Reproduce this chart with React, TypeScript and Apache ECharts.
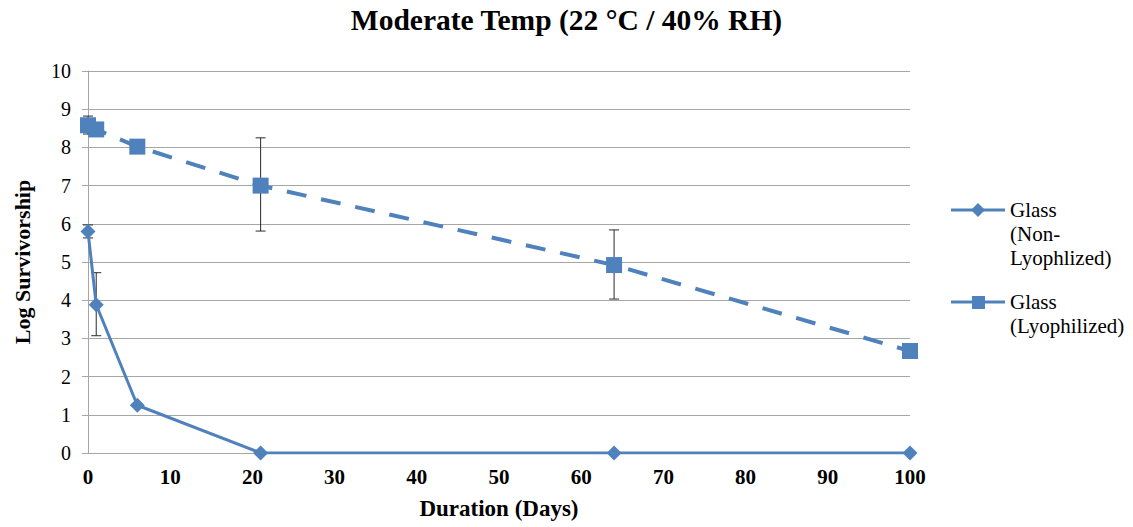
import React, { useEffect, useRef } from "react";
import * as echarts from "echarts";

const days = [0, 1, 6, 21, 64, 100];
const nonLyo = [5.8, 3.88, 1.25, 0, 0, 0];
const lyo = [8.58, 8.47, 8.02, 7.0, 4.92, 2.67];
// error bars: [day, low, high]
const nonLyoErr = [
  [0, 5.63, 5.97],
  [1, 3.07, 4.72],
];
const lyoErr = [
  [0, 8.35, 8.82],
  [21, 5.81, 8.25],
  [64, 4.03, 5.84],
];
const legendNames = ["Glass\n(Non-\nLyophlized)", "Glass\n(Lyophilized)"];
const title = "Moderate Temp (22 °C / 40% RH)";
const xName = "Duration (Days)";
const yName = "Log Survivorship";

const COLOR = "#4F81BD";
const FONT = "Liberation Serif";

function errRender(params: any, api: any) {
  const x = api.value(0);
  const lo = api.coord([x, api.value(1)]);
  const hi = api.coord([x, api.value(2)]);
  const w = 5;
  const st = { stroke: "#2a2a2a", lineWidth: 1 };
  return {
    type: "group",
    children: [
      { type: "line", shape: { x1: hi[0], y1: hi[1], x2: lo[0], y2: lo[1] }, style: st },
      { type: "line", shape: { x1: hi[0] - w, y1: hi[1], x2: hi[0] + w, y2: hi[1] }, style: st },
      { type: "line", shape: { x1: lo[0] - w, y1: lo[1], x2: lo[0] + w, y2: lo[1] }, style: st },
    ],
  };
}

export default function App() {
  const ref = useRef<HTMLDivElement>(null);
  useEffect(() => {
    if (!ref.current) return;
    const chart = echarts.init(ref.current, null, { renderer: "svg" });
    const lx = 951;
    const textStyle = { fill: "#000", fontFamily: FONT, fontSize: 21, lineHeight: 24 };
    chart.setOption({
      animation: false,
      backgroundColor: "#fff",
      title: {
        text: title,
        left: "center",
        top: 0,
        textStyle: { fontFamily: FONT, fontWeight: "bold", fontSize: 29.5, color: "#000" },
      },
      grid: { left: 88, right: 223, top: 71, bottom: 74 },
      xAxis: {
        type: "value",
        min: 0,
        max: 100,
        interval: 10,
        name: xName,
        nameLocation: "middle",
        nameGap: 44,
        nameTextStyle: { fontFamily: FONT, fontWeight: "bold", fontSize: 23, color: "#000" },
        axisLine: { show: true, lineStyle: { color: "#A6A6A6", width: 1 } },
        axisTick: { show: false },
        splitLine: { show: false },
        axisLabel: { fontFamily: FONT, fontWeight: "bold", fontSize: 21, color: "#000", margin: 13 },
      },
      yAxis: {
        type: "value",
        min: 0,
        max: 10,
        interval: 1,
        name: yName,
        nameLocation: "middle",
        nameGap: 55,
        nameTextStyle: { fontFamily: FONT, fontWeight: "bold", fontSize: 22, color: "#000" },
        axisLine: { show: true, lineStyle: { color: "#A6A6A6", width: 1 } },
        axisTick: { show: true, length: 6, lineStyle: { color: "#A6A6A6" } },
        splitLine: { show: true, lineStyle: { color: "#A6A6A6", width: 1 } },
        axisLabel: { fontFamily: FONT, fontSize: 20, color: "#000", margin: 17 },
      },
      series: [
        {
          type: "custom",
          name: "errNon",
          renderItem: errRender,
          data: nonLyoErr,
          z: 1,
          silent: true,
        },
        {
          type: "custom",
          name: "errLyo",
          renderItem: errRender,
          data: lyoErr,
          z: 1,
          silent: true,
        },
        {
          type: "line",
          name: legendNames[0],
          data: days.map((d, i) => [d, nonLyo[i]]),
          symbol: "diamond",
          symbolSize: 15,
          lineStyle: { color: COLOR, width: 3 },
          itemStyle: { color: COLOR },
          z: 3,
        },
        {
          type: "line",
          name: legendNames[1],
          data: days.map((d, i) => [d, lyo[i]]),
          symbol: "rect",
          symbolSize: 16,
          lineStyle: { color: COLOR, width: 4, type: [20, 15] },
          itemStyle: { color: COLOR },
          z: 3,
        },
      ],
      graphic: [
        { type: "line", shape: { x1: lx, y1: 210, x2: lx + 54, y2: 210 }, style: { stroke: COLOR, lineWidth: 3 } },
        { type: "polygon", shape: { points: [[978, 203], [985, 210], [978, 217], [971, 210]] }, style: { fill: COLOR } },
        { type: "text", x: 1010, y: 198, style: { ...textStyle, text: legendNames[0] } },
        { type: "line", shape: { x1: lx, y1: 302, x2: lx + 54, y2: 302 }, style: { stroke: COLOR, lineWidth: 3 } },
        { type: "rect", shape: { x: 972, y: 296, width: 13, height: 13 }, style: { fill: COLOR } },
        { type: "text", x: 1010, y: 290, style: { ...textStyle, text: legendNames[1] } },
      ],
    });
    return () => chart.dispose();
  }, []);
  return (
    <div
      ref={ref}
      style={{ position: "fixed", left: 0, top: 0, width: 1133, height: 527, background: "#fff" }}
    />
  );
}
